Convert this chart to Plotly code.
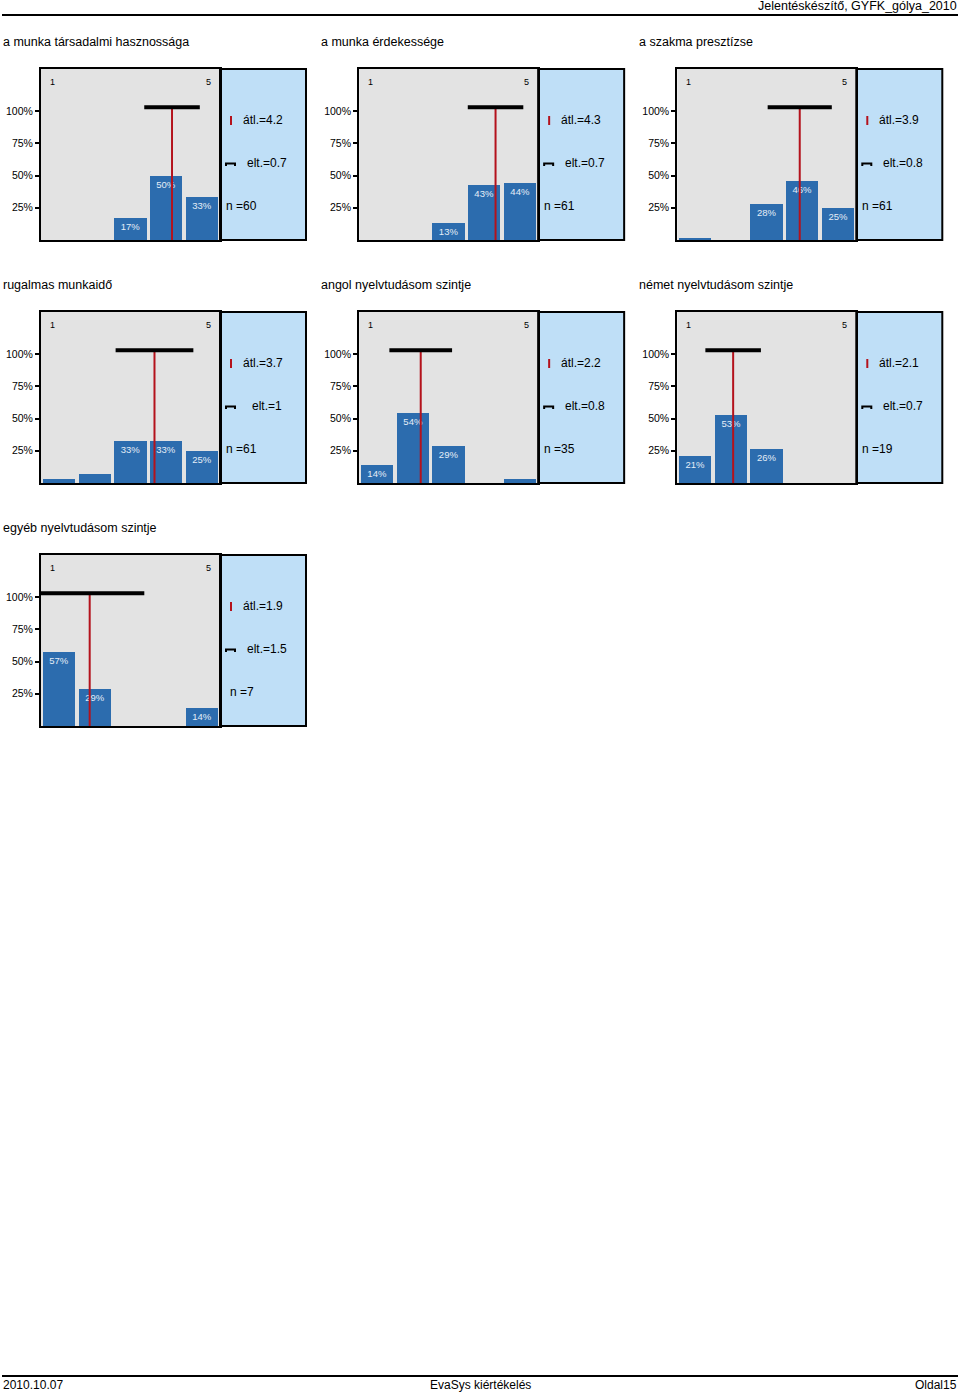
import plotly.graph_objects as go

# ---------------- data ----------------
titles = [
    "a munka társadalmi hasznossága",
    "a munka érdekessége",
    "a szakma presztízse",
    "rugalmas munkaidő",
    "angol nyelvtudásom szintje",
    "német nyelvtudásom szintje",
    "egyéb nyelvtudásom szintje",
]
categories = [1, 2, 3, 4, 5]
pct_tarsadalmi = [0, 0, 17, 50, 33]
pct_erdekesseg = [0, 0, 13, 43, 44]
pct_presztizs = [1.6, 0, 28, 46, 25]
pct_rugalmas = [3.3, 6.6, 32.8, 32.8, 24.6]
pct_angol = [14, 54, 29, 0, 2.9]
pct_nemet = [21, 53, 26, 0, 0]
pct_egyeb = [57, 29, 0, 0, 14]
series = [pct_tarsadalmi, pct_erdekesseg, pct_presztizs, pct_rugalmas,
          pct_angol, pct_nemet, pct_egyeb]
means = [4.16, 4.31, 3.92, 3.67, 2.22, 2.06, 1.86]
sds = [0.72, 0.72, 0.84, 1.03, 0.82, 0.72, 1.47]
ns = [60, 61, 61, 61, 35, 19, 7]
ytick_vals = [25, 50, 75, 100]
ytick_text = ["25%", "50%", "75%", "100%"]

# ---------------- style ----------------
W, H = 960, 1395
FONT = "Liberation Sans, Arial, sans-serif"
BAR = "#2c6cae"
GRAY = "#e3e3e3"
LBLUE = "#bfdff7"
RED = "#b4121c"
BRACKET_Y = 103
YMAX = 132.6


def px(x):
    return x / W


def py(y):
    return 1 - y / H


def fmt(v):
    s = f"{v:.1f}"
    if s.endswith(".0"):
        s = s[:-2]
    return s


fig = go.Figure()
shapes = []
annotations = []
layout = {}

for i, title in enumerate(titles):
    col, row = i % 3, i // 3
    left = 41 + 318.15 * col
    top = 69 + 243 * row
    gr = left + 179
    right = left + 265
    bottom = top + 171
    k = i + 1
    xa = "x" if k == 1 else f"x{k}"
    ya = "y" if k == 1 else f"y{k}"
    xname = "xaxis" if k == 1 else f"xaxis{k}"
    yname = "yaxis" if k == 1 else f"yaxis{k}"
    oy = 7 + k
    vals = series[i]

    fig.add_trace(go.Bar(
        x=categories, y=vals, width=0.9, marker=dict(color=BAR, line=dict(width=0)),
        text=[f"{round(v)}%" if v >= 10 else "" for v in vals],
        textposition="inside", insidetextanchor="end",
        textfont=dict(size=9.5, color="#e4ecf7", family=FONT),
        xaxis=xa, yaxis=ya, showlegend=False, hoverinfo="skip",
    ))
    # mean line
    fig.add_trace(go.Scatter(
        x=[means[i], means[i]], y=[0, BRACKET_Y], mode="lines",
        line=dict(color=RED, width=2), xaxis=xa, yaxis=ya,
        showlegend=False, hoverinfo="skip", cliponaxis=False,
    ))
    # std bracket
    fig.add_trace(go.Scatter(
        x=[means[i]], y=[BRACKET_Y], mode="markers",
        marker=dict(size=1, color="black"),
        error_x=dict(type="data", array=[sds[i]], color="black", thickness=4, width=2),
        xaxis=xa, yaxis=ya, showlegend=False, hoverinfo="skip", cliponaxis=False,
    ))

    layout[xname] = dict(
        domain=[px(left), px(gr)], range=[0.5, 5.5], anchor=ya,
        showticklabels=False, ticks="", showgrid=False, zeroline=False,
        showline=True, mirror=True, linecolor="black", linewidth=2, fixedrange=True,
    )
    layout[yname] = dict(
        domain=[py(bottom), py(top)], range=[0, YMAX], anchor=xa,
        tickvals=ytick_vals, ticktext=ytick_text, ticks="outside", ticklen=4,
        tickwidth=1.5, tickcolor="black",
        tickfont=dict(size=10.5, color="black", family=FONT),
        showgrid=False, zeroline=False,
        showline=True, mirror=True, linecolor="black", linewidth=2, fixedrange=True,
    )
    layout[f"yaxis{oy}"] = dict(
        overlaying=ya, anchor=xa, range=[0, YMAX], tickvals=ytick_vals,
        ticks="inside", ticklen=3, tickwidth=1.5, tickcolor="black",
        showticklabels=False, showgrid=False, zeroline=False, showline=False,
        fixedrange=True,
    )

    # info panel
    shapes.append(dict(type="rect", xref="paper", yref="paper",
                       x0=px(gr), x1=px(right), y0=py(bottom), y1=py(top),
                       fillcolor=LBLUE, line=dict(color="black", width=2), layer="below"))
    shapes.append(dict(type="line", xref="paper", yref="paper",
                       x0=px(gr + 11), x1=px(gr + 11), y0=py(top + 56), y1=py(top + 47),
                       line=dict(color=RED, width=2)))
    shapes.append(dict(type="path", xref="paper", yref="paper",
                       path=(f"M {px(gr + 6)} {py(top + 97)} L {px(gr + 6)} {py(top + 94.5)} "
                             f"L {px(gr + 15)} {py(top + 94.5)} L {px(gr + 15)} {py(top + 97)}"),
                       line=dict(color="black", width=2)))

    annotations += [
        dict(text=title, x=px(0.5 + 318.15 * col), y=py(top - 27), xanchor="left", yanchor="middle",
             font=dict(size=12.5, color="black", family=FONT)),
        dict(text="1", x=px(left + 11), y=py(top + 13), xanchor="center", yanchor="middle",
             font=dict(size=9, color="black", family=FONT)),
        dict(text="5", x=px(left + 167), y=py(top + 13), xanchor="center", yanchor="middle",
             font=dict(size=9, color="black", family=FONT)),
        dict(text=f"átl.={fmt(means[i])}", x=px(gr + 43), y=py(top + 51),
             xanchor="center", yanchor="middle", font=dict(size=12, color="black", family=FONT)),
        dict(text=f"elt.={fmt(sds[i])}", x=px(gr + 46.5), y=py(top + 94),
             xanchor="center", yanchor="middle", font=dict(size=12, color="black", family=FONT)),
        dict(text=f"n ={ns[i]}", x=px(gr + 21.5), y=py(top + 137),
             xanchor="center", yanchor="middle", font=dict(size=12, color="black", family=FONT)),
    ]

# header / footer
shapes.append(dict(type="line", xref="paper", yref="paper", x0=px(2), x1=px(958),
                   y0=py(15), y1=py(15), line=dict(color="black", width=2)))
shapes.append(dict(type="line", xref="paper", yref="paper", x0=px(2), x1=px(958),
                   y0=py(1376), y1=py(1376), line=dict(color="black", width=2)))
annotations += [
    dict(text="Jelentéskészítő, GYFK_gólya_2010", x=px(959), y=py(6), xanchor="right",
         yanchor="middle", font=dict(size=12.5, color="black", family=FONT)),
    dict(text="2010.10.07", x=px(0.5), y=py(1385), xanchor="left", yanchor="middle",
         font=dict(size=12, color="black", family=FONT)),
    dict(text="EvaSys kiértékelés", x=px(480), y=py(1385), xanchor="center", yanchor="middle",
         font=dict(size=12, color="black", family=FONT)),
    dict(text="Oldal15", x=px(959), y=py(1385), xanchor="right", yanchor="middle",
         font=dict(size=12, color="black", family=FONT)),
]
for a in annotations:
    a.update(xref="paper", yref="paper", showarrow=False)

fig.update_layout(
    width=W, height=H, margin=dict(l=0, r=0, t=0, b=0),
    paper_bgcolor="white", plot_bgcolor=GRAY,
    shapes=shapes, annotations=annotations, showlegend=False,
    bargap=0, font=dict(family=FONT), **layout,
)
fig.write_html(
    "out.html",
    config={"displayModeBar": False},
    post_script="document.body.style.margin='0';document.body.style.overflow='hidden';",
)
